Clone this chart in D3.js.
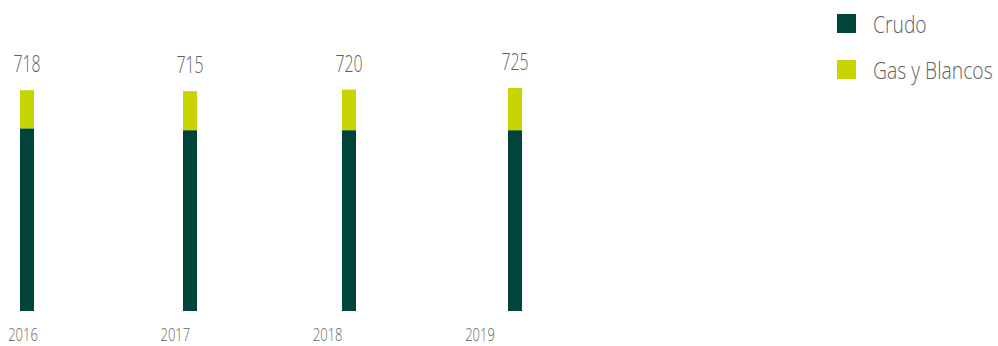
<!DOCTYPE html>
<html>
<head>
<meta charset="utf-8">
<script src="https://cdn.jsdelivr.net/npm/d3@7/dist/d3.min.js"></script>
<style>
  html, body { margin: 0; padding: 0; background: #fff; }
  svg { display: block; }
  text { font-family: "Open Sans", "Noto Sans", sans-serif; font-weight: 300; fill: #5f5f5f; }
</style>
</head>
<body>
<div id="chart"></div>
<script>
const years = ["2016", "2017", "2018", "2019"];
const crudo = [594, 588, 588, 588];
const gasBlancos = [124, 127, 132, 137];
const totals = [718, 715, 720, 725];
const seriesNames = ["Crudo", "Gas y Blancos"];
const colors = ["#00443c", "#c8d400"];

const W = 998, H = 346;
const svg = d3.select("#chart").append("svg").attr("width", W).attr("height", H);

const x = d3.scaleOrdinal().domain(years).range([27, 190, 349, 515]);
const xLabel = d3.scalePoint().domain(years).range([23, 480]);
const y = d3.scaleLinear().domain([0, 800]).range([311, 65]);
const barW = 14;

const rows = years.map((yr, i) => ({ year: yr, Crudo: crudo[i], "Gas y Blancos": gasBlancos[i], total: totals[i] }));
const stacked = d3.stack().keys(seriesNames)(rows);

svg.append("g").selectAll("g").data(stacked).join("g")
  .attr("fill", (d, i) => colors[i])
  .selectAll("rect").data(d => d).join("rect")
  .attr("x", d => x(d.data.year) - barW / 2)
  .attr("width", barW)
  .attr("y", d => y(d[1]))
  .attr("height", d => y(d[0]) - y(d[1]));

// value labels
svg.append("g").selectAll("text").data(rows).join("text")
  .attr("transform", d => `translate(${x(d.year)},${y(d.total) - 18}) scale(0.66,1)`)
  .attr("text-anchor", "middle")
  .style("font-size", "24px")
  .text(d => d.total);

// year labels
svg.append("g").selectAll("text").data(years).join("text")
  .attr("transform", d => `translate(${xLabel(d)},341) scale(0.72,1)`)
  .attr("text-anchor", "middle")
  .style("font-size", "18px")
  .text(d => d);

// legend
const lg = svg.append("g").selectAll("g").data(seriesNames).join("g")
  .attr("transform", (d, i) => `translate(837,${14 + i * 46})`);
lg.append("rect").attr("width", 19).attr("height", 19).attr("fill", (d, i) => colors[i]);
lg.append("text")
  .attr("transform", "translate(36,19) scale(0.84,1)")
  .style("font-size", "23px")
  .text(d => d);
</script>
</body>
</html>
